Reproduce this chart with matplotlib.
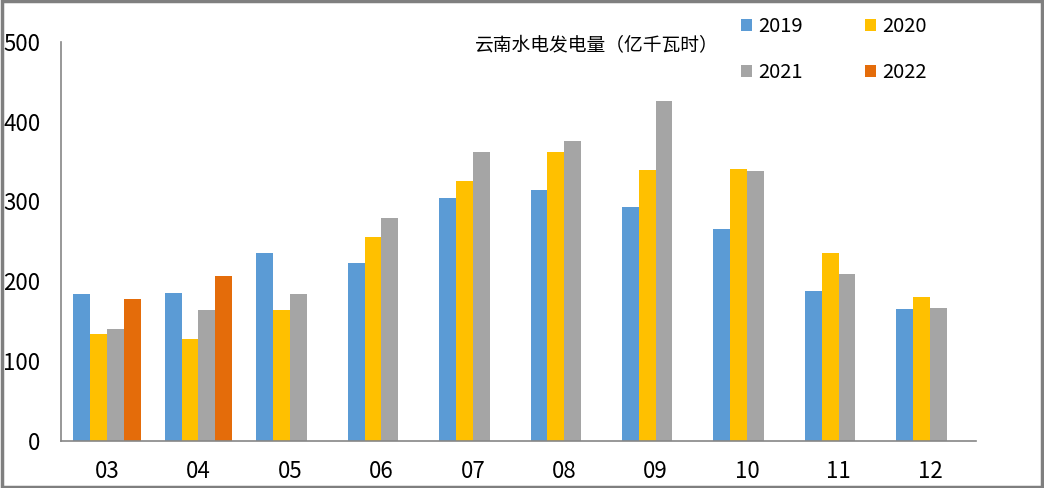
import matplotlib
matplotlib.use("Agg")
import matplotlib.pyplot as plt
import numpy as np
from matplotlib.patches import Rectangle

plt.rcParams['font.family'] = ['Noto Sans CJK SC', 'DejaVu Sans']

months = ["03", "04", "05", "06", "07", "08", "09", "10", "11", "12"]
years = ["2019", "2020", "2021", "2022"]
v2019 = [184, 185, 235, 222.5, 304, 314, 292.5, 266, 187.5, 165]
v2020 = [134, 127.5, 164, 256, 325, 362.5, 339, 341, 236, 180]
v2021 = [140, 164, 184, 279, 362.5, 376, 426, 337.5, 209, 166]
v2022 = [177.5, 206, np.nan, np.nan, np.nan, np.nan, np.nan, np.nan, np.nan, np.nan]
series = [v2019, v2020, v2021, v2022]
colors = ["#5B9BD5", "#FFC000", "#A5A5A5", "#E46C0A"]
title = "云南水电发电量（亿千瓦时）"
yticks = [0, 100, 200, 300, 400, 500]

W, H = 1044, 488
fig = plt.figure(figsize=(W / 100, H / 100), dpi=100)
ax = fig.add_axes([61.3 / W, 1 - 441 / H, (975.7 - 61.3) / W, (441 - 41.7) / H])

x = np.arange(len(months))
bw = 0.184
handles = []
for i, (vals, c, yr) in enumerate(zip(series, colors, years)):
    b = ax.bar(x + (i - 1.5) * bw, vals, width=bw, color=c, label=yr, linewidth=0)
    handles.append(b)

ax.set_xlim(-0.5, len(months) - 0.5)
ax.set_ylim(0, 500)
ax.set_yticks(yticks)
ax.set_xticks(x)
ax.set_xticklabels(months)
ax.tick_params(axis='both', length=0, labelsize=16, colors='black')
ax.tick_params(axis='y', pad=15)
ax.tick_params(axis='x', pad=14)
for s in ['top', 'right']:
    ax.spines[s].set_visible(False)
for s in ['left', 'bottom']:
    ax.spines[s].set_color('#868686')
    ax.spines[s].set_linewidth(1.2)

fig.text(475 / W, 1 - 46 / H, title, fontsize=13.5, ha='left', va='center')

# row-wise legend order: 2019 2020 / 2021 2022
order = [0, 2, 1, 3]
leg = fig.legend(handles=[handles[k] for k in order], labels=[years[k] for k in order],
                 ncol=2, loc='upper left',
                 bbox_to_anchor=(723 / W, 1 + 2 / H), frameon=False, fontsize=14.5,
                 handlelength=0.55, handleheight=0.55, handletextpad=0.3,
                 columnspacing=3.1, labelspacing=1.25)

fig.patches.append(Rectangle((0.0015, 0.003), 0.997, 0.994, transform=fig.transFigure,
                             fill=False, edgecolor='#7F7F7F', linewidth=2.5))

fig.savefig("out.png", dpi=100)
